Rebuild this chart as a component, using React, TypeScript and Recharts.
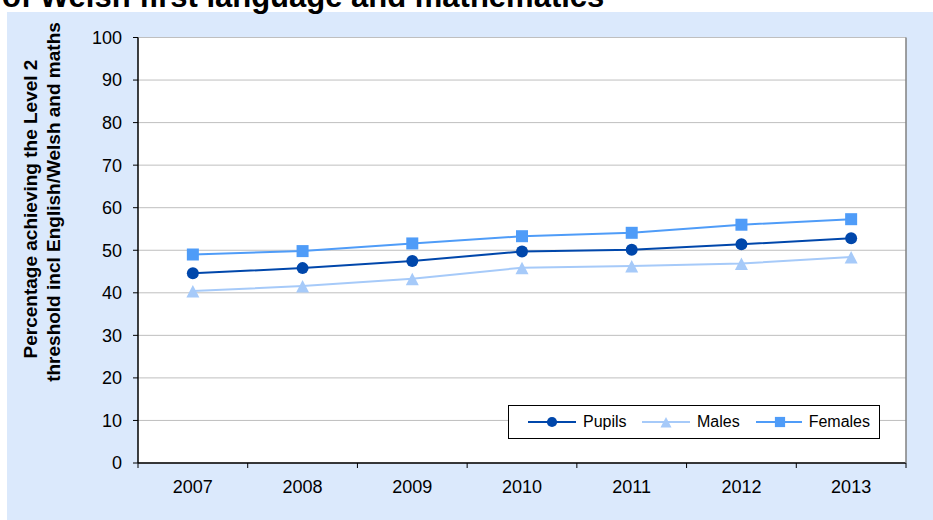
import React from 'react';
import { LineChart, Line, XAxis, YAxis, CartesianGrid, Legend } from 'recharts';

const YEARS = ['2007', '2008', '2009', '2010', '2011', '2012', '2013'];
const PUPILS = [44.6, 45.8, 47.5, 49.7, 50.1, 51.4, 52.8];
const MALES = [40.4, 41.6, 43.3, 45.9, 46.3, 46.9, 48.4];
const FEMALES = [49.0, 49.8, 51.6, 53.3, 54.1, 56.0, 57.3];
const Y_TICKS = [0, 10, 20, 30, 40, 50, 60, 70, 80, 90, 100];
const TITLE = 'of Welsh first language and mathematics';
const Y_LABEL_LINES = ['Percentage achieving the Level 2', 'threshold incl English/Welsh and maths'];

const SERIES = [
  { key: 'Pupils', color: '#0047AB', shape: 'circle' },
  { key: 'Males', color: '#A6CAF9', shape: 'triangle' },
  { key: 'Females', color: '#4F9CF8', shape: 'square' },
];

const data = YEARS.map((year, i) => ({
  year,
  Pupils: PUPILS[i],
  Males: MALES[i],
  Females: FEMALES[i],
}));

const FONT = '"Liberation Sans", Arial, Helvetica, sans-serif';

function Marker({ shape, cx, cy, color, scale = 1 }: any) {
  if (shape === 'circle') {
    return <circle cx={cx} cy={cy} r={6 * scale} fill={color} stroke="none" />;
  }
  if (shape === 'square') {
    const s = 12 * scale;
    return <rect x={cx - s / 2} y={cy - s / 2} width={s} height={s} fill={color} stroke="none" />;
  }
  const pts = `${cx},${cy - 6 * scale} ${cx - 6.5 * scale},${cy + 6.5 * scale} ${cx + 6.5 * scale},${cy + 6.5 * scale}`;
  return <polygon points={pts} fill={color} stroke="none" />;
}

const makeDot = (shape: string, color: string) => (props: any) => {
  const { cx, cy, index } = props;
  if (cx == null || cy == null) return <g key={`d-${index}`} />;
  return (
    <g key={`${shape}-${index}`}>
      <Marker shape={shape} cx={cx} cy={cy} color={color} />
    </g>
  );
};

const XTick = (props: any) => {
  const { x, y, payload } = props;
  const half = payload && typeof payload.offset === 'number' && payload.offset > 0 ? payload.offset : 54.86;
  const isLast = payload.value === YEARS[YEARS.length - 1];
  return (
    <g>
      <line x1={x - half} x2={x - half} y1={y} y2={y + 5} stroke="#000" strokeWidth={1} />
      {isLast && <line x1={x + half} x2={x + half} y1={y} y2={y + 5} stroke="#000" strokeWidth={1} />}
      <text x={x} y={y + 30} textAnchor="middle" fontSize={18} fontFamily={FONT} fill="#000">
        {payload.value}
      </text>
    </g>
  );
};

const YLabel = () => (
  <g>
    <text
      x={37}
      y={209}
      transform="rotate(-90 37 209)"
      textAnchor="middle"
      fontSize={19}
      fontWeight="bold"
      fontFamily={FONT}
      fill="#000"
    >
      {Y_LABEL_LINES[0]}
    </text>
    <text
      x={60}
      y={202}
      transform="rotate(-90 60 202)"
      textAnchor="middle"
      fontSize={19}
      fontWeight="bold"
      fontFamily={FONT}
      fill="#000"
    >
      {Y_LABEL_LINES[1]}
    </text>
  </g>
);

const LegendContent = () => (
  <div
    style={{
      width: 372,
      height: 34,
      boxSizing: 'border-box',
      border: '1px solid #000',
      background: '#fff',
      display: 'flex',
      alignItems: 'center',
      paddingLeft: 19,
      fontFamily: FONT,
      fontSize: 16,
      color: '#000',
    }}
  >
    {SERIES.map((s) => (
      <div key={s.key} style={{ width: 114, display: 'flex', alignItems: 'center' }}>
        <svg width={48} height={14} style={{ display: 'block' }}>
          <line x1={0} x2={48} y1={7} y2={7} stroke={s.color} strokeWidth={2} />
          <Marker shape={s.shape} cx={24} cy={7} color={s.color} scale={0.85} />
        </svg>
        <span style={{ marginLeft: 7, lineHeight: '16px' }}>{s.key}</span>
      </div>
    ))}
  </div>
);

export default function App() {
  return (
    <div
      style={{
        position: 'absolute',
        left: 0,
        top: 0,
        width: 933,
        height: 520,
        background: '#fff',
        overflow: 'hidden',
        fontFamily: FONT,
      }}
    >
      <div style={{ position: 'absolute', left: 7, top: 12, right: 0, bottom: 0, background: '#DBE9FC' }} />
      <div
        style={{
          position: 'absolute',
          left: 2,
          top: -19,
          fontSize: 31,
          lineHeight: '31px',
          fontWeight: 'bold',
          whiteSpace: 'nowrap',
          color: '#000',
        }}
      >
        {TITLE}
      </div>
      <div style={{ position: 'absolute', left: 0, top: 0 }}>
        <LineChart width={933} height={520} data={data} margin={{ top: 37.5, right: 26, bottom: 27, left: 8 }}>
          <CartesianGrid vertical={false} stroke="#BFBFBF" fill="#fff" />
          <XAxis
            dataKey="year"
            scale="band"
            height={30}
            axisLine={{ stroke: '#000', strokeWidth: 1.5 }}
            tickLine={false}
            tickSize={0}
            tickMargin={0}
            interval={0}
            tick={<XTick />}
          />
          <XAxis
            xAxisId="top"
            dataKey="year"
            scale="band"
            orientation="top"
            height={0}
            tick={false}
            tickLine={false}
            axisLine={{ stroke: '#808080', strokeWidth: 1.5 }}
          />
          <YAxis
            domain={[0, 100]}
            ticks={Y_TICKS}
            interval={0}
            width={130}
            axisLine={{ stroke: '#000', strokeWidth: 1.5 }}
            tickLine={{ stroke: '#000' }}
            tickSize={5}
            tickMargin={11}
            tick={{ fontSize: 18, fill: '#000', fontFamily: FONT }}
            label={<YLabel />}
          />
          <YAxis
            yAxisId="right"
            orientation="right"
            domain={[0, 100]}
            width={1}
            tick={false}
            tickLine={false}
            axisLine={{ stroke: '#808080', strokeWidth: 1.5 }}
          />
          <Legend
            layout="horizontal"
            verticalAlign="middle"
            align="center"
            wrapperStyle={{ left: 508, top: 405, width: 372, height: 34 }}
            content={<LegendContent />}
          />
          {SERIES.map((s) => (
            <Line
              key={s.key}
              type="linear"
              dataKey={s.key}
              stroke={s.color}
              strokeWidth={2}
              dot={makeDot(s.shape, s.color)}
              activeDot={false}
              isAnimationActive={false}
            />
          ))}
        </LineChart>
      </div>
    </div>
  );
}
